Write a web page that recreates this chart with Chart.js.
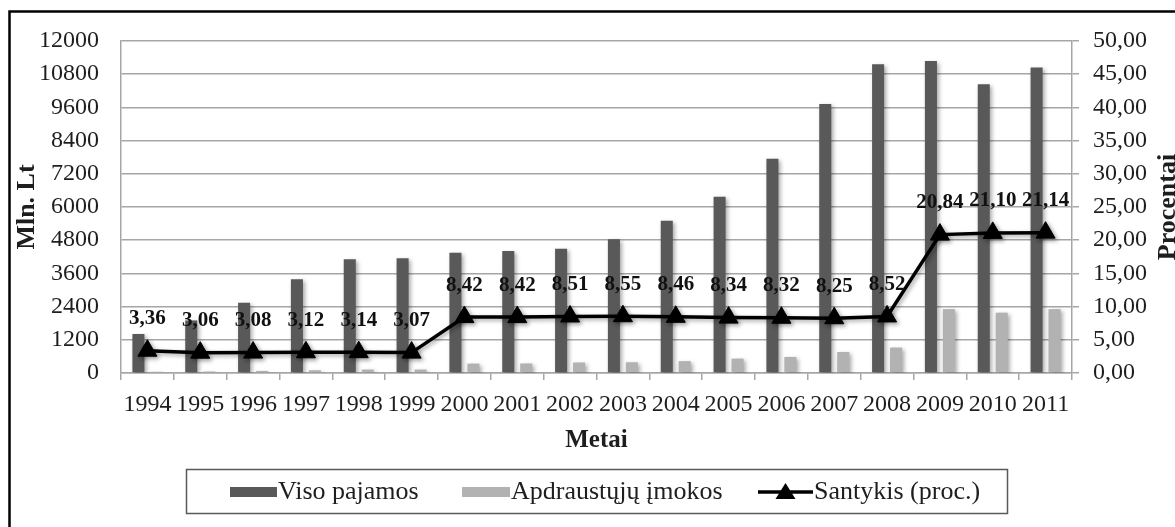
<!DOCTYPE html>
<html>
<head>
<meta charset="utf-8">
<script src="https://cdn.jsdelivr.net/npm/chart.js@4"></script>
<style>
  html, body { margin: 0; padding: 0; background: #ffffff; }
  #wrap { width: 1175px; height: 527px; }
</style>
</head>
<body>
<div id="wrap"><canvas id="c" width="1175" height="527"></canvas></div>
<script>
const categories = ['1994','1995','1996','1997','1998','1999','2000','2001','2002','2003','2004','2005','2006','2007','2008','2009','2010','2011'];
const visoPajamos = [1410, 1900, 2540, 3390, 4110, 4150, 4350, 4410, 4490, 4830, 5500, 6370, 7740, 9720, 11160, 11280, 10440, 11040];
const apdraustujuImokos = [45, 55, 75, 100, 125, 125, 340, 345, 380, 390, 430, 520, 580, 760, 920, 2310, 2180, 2310];
const santykis = [3.36, 3.06, 3.08, 3.12, 3.14, 3.07, 8.42, 8.42, 8.51, 8.55, 8.46, 8.34, 8.32, 8.25, 8.52, 20.84, 21.10, 21.14];
const leftTicks = [0, 1200, 2400, 3600, 4800, 6000, 7200, 8400, 9600, 10800, 12000];
const rightTicks = ['0,00','5,00','10,00','15,00','20,00','25,00','30,00','35,00','40,00','45,00','50,00'];
const seriesNames = ['Viso pajamos', 'Apdraustųjų įmokos', 'Santykis (proc.)'];
const axisTitles = { left: 'Mln. Lt', right: 'Procentai', bottom: 'Metai' };

const FONT = "'Liberation Serif', 'Times New Roman', serif";
const DARK = '#595959';
const LIGHT = '#b2b2b2';
const GRID = '#a6a6a6';
const TEXT = '#1e1e1e';

const framePlugin = {
  id: 'frame',
  beforeDraw(chart) {
    const ctx = chart.ctx;
    ctx.save();
    ctx.fillStyle = '#ffffff';
    ctx.fillRect(0, 0, chart.width, chart.height);
    ctx.strokeStyle = '#000000';
    ctx.lineWidth = 2.5;
    ctx.beginPath();
    ctx.moveTo(9.5, chart.height + 5);
    ctx.lineTo(9.5, 11.5);
    ctx.lineTo(chart.width + 5, 11.5);
    ctx.stroke();
    ctx.restore();
  }
};

const shadowPlugin = {
  id: 'shadow',
  beforeDatasetDraw(chart, args) {
    const ctx = chart.ctx;
    ctx.save();
    ctx.shadowColor = 'rgba(0,0,0,0.35)';
    ctx.shadowBlur = 4;
    ctx.shadowOffsetX = 2;
    ctx.shadowOffsetY = 2;
  },
  afterDatasetDraw(chart) {
    chart.ctx.restore();
  }
};

const labelsPlugin = {
  id: 'pointLabels',
  afterDatasetsDraw(chart) {
    const ctx = chart.ctx;
    const meta = chart.getDatasetMeta(2);
    ctx.save();
    ctx.font = 'bold 21px ' + FONT;
    ctx.fillStyle = '#111';
    ctx.textAlign = 'center';
    ctx.textBaseline = 'middle';
    meta.data.forEach((pt, i) => {
      const txt = santykis[i].toFixed(2).replace('.', ',');
      ctx.fillText(txt, pt.x, pt.y - 32);
    });
    ctx.restore();
  }
};

const decorPlugin = {
  id: 'decor',
  afterDraw(chart) {
    const ctx = chart.ctx;
    const ca = chart.chartArea;
    ctx.save();
    ctx.fillStyle = TEXT;
    ctx.textAlign = 'center';
    ctx.textBaseline = 'middle';
    ctx.font = 'bold 26px ' + FONT;
    // left axis title
    ctx.save();
    ctx.translate(27, (ca.top + ca.bottom) / 2);
    ctx.rotate(-Math.PI / 2);
    ctx.fillText(axisTitles.left, 0, 0);
    ctx.restore();
    // right axis title
    ctx.save();
    ctx.translate(1168, (ca.top + ca.bottom) / 2);
    ctx.rotate(-Math.PI / 2);
    ctx.fillText(axisTitles.right, 0, 0);
    ctx.restore();
    // bottom title
    ctx.font = 'bold 25px ' + FONT;
    ctx.fillText(axisTitles.bottom, (ca.left + ca.right) / 2, 441);

    // legend
    ctx.strokeStyle = '#595959';
    ctx.lineWidth = 1.5;
    ctx.strokeRect(186.5, 469.5, 821, 44);
    ctx.font = '26px ' + FONT;
    ctx.textAlign = 'left';
    const ly = 492;
    ctx.fillStyle = DARK;
    ctx.fillRect(230, ly - 5, 47, 10);
    ctx.fillStyle = TEXT;
    ctx.fillText(seriesNames[0], 278, ly);
    ctx.fillStyle = LIGHT;
    ctx.fillRect(462, ly - 5, 48, 10);
    ctx.fillStyle = TEXT;
    ctx.fillText(seriesNames[1], 511, ly);
    ctx.strokeStyle = '#000';
    ctx.lineWidth = 3.5;
    ctx.beginPath();
    ctx.moveTo(758, ly);
    ctx.lineTo(813, ly);
    ctx.stroke();
    ctx.fillStyle = '#000';
    ctx.beginPath();
    ctx.moveTo(785.5, ly - 9);
    ctx.lineTo(795.5, ly + 7);
    ctx.lineTo(775.5, ly + 7);
    ctx.closePath();
    ctx.fill();
    ctx.fillStyle = TEXT;
    ctx.fillText(seriesNames[2], 814, ly);
    ctx.restore();
  }
};

new Chart(document.getElementById('c'), {
  type: 'bar',
  data: {
    labels: categories,
    datasets: [
      {
        label: seriesNames[0],
        data: visoPajamos,
        backgroundColor: DARK,
        yAxisID: 'y',
        order: 1,
        categoryPercentage: 0.68,
        barPercentage: 0.67
      },
      {
        label: seriesNames[1],
        data: apdraustujuImokos,
        backgroundColor: LIGHT,
        yAxisID: 'y',
        order: 2,
        categoryPercentage: 0.68,
        barPercentage: 0.67
      },
      {
        type: 'line',
        label: seriesNames[2],
        data: santykis,
        yAxisID: 'y1',
        order: 0,
        borderColor: '#000',
        borderWidth: 3.5,
        pointStyle: 'triangle',
        pointRadius: 11,
        pointBackgroundColor: '#000',
        pointBorderColor: '#000',
        pointBorderWidth: 1,
        tension: 0
      }
    ]
  },
  options: {
    responsive: false,
    devicePixelRatio: 1,
    animation: false,
    layout: { padding: { top: 41, left: 0, right: 0, bottom: 0 } },
    plugins: {
      legend: { display: false },
      tooltip: { enabled: false }
    },
    scales: {
      x: {
        offset: true,
        grid: { display: true, drawOnChartArea: false, drawTicks: true, tickLength: 7, offset: true, color: GRID, lineWidth: 1.5 },
        border: { display: true, color: GRID, width: 1.5 },
        ticks: { autoSkip: false, maxRotation: 0, minRotation: 0, padding: 10, color: TEXT, font: { family: FONT, size: 24 } },
        afterFit(scale) { scale.height = 154; }
      },
      y: {
        position: 'left',
        min: 0,
        max: 12000,
        afterBuildTicks(scale) { scale.ticks = leftTicks.map(v => ({ value: v })); },
        grid: { color: GRID, lineWidth: 1.5, drawTicks: false },
        border: { display: true, color: GRID, width: 1.5 },
        ticks: { padding: 22, color: TEXT, font: { family: FONT, size: 24 }, callback: (v) => String(v) },
        afterFit(scale) { scale.width = 121; }
      },
      y1: {
        position: 'right',
        min: 0,
        max: 50,
        afterBuildTicks(scale) { scale.ticks = rightTicks.map((t, i) => ({ value: i * 5 })); },
        grid: { drawOnChartArea: false, drawTicks: true, tickLength: 7, color: GRID, lineWidth: 1.5 },
        border: { display: true, color: GRID, width: 1.5 },
        ticks: { padding: 14, color: TEXT, font: { family: FONT, size: 24 }, callback: (v, i) => rightTicks[i] },
        afterFit(scale) { scale.width = 103; }
      }
    }
  },
  plugins: [framePlugin, shadowPlugin, labelsPlugin, decorPlugin]
});
</script>
</body>
</html>
